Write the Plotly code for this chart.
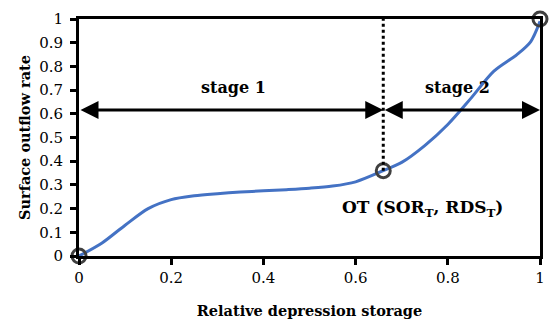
import plotly.graph_objects as go

# Relative depression storage vs. surface outflow rate
storage = [0, 0.05, 0.10, 0.15, 0.20, 0.25, 0.30, 0.35, 0.40, 0.45, 0.50, 0.55, 0.60,
           0.66, 0.70, 0.75, 0.80, 0.85, 0.90, 0.95, 0.98, 1.0]
outflow = [0, 0.055, 0.130, 0.200, 0.238, 0.254, 0.263, 0.270, 0.275, 0.280, 0.286, 0.295, 0.313,
           0.36, 0.395, 0.466, 0.555, 0.665, 0.780, 0.850, 0.905, 0.99]

# Key points: start, threshold OT, end
key_x = [0, 0.66, 1.0]
key_y = [0, 0.36, 1.0]

ot_x, ot_y = 0.66, 0.36
arrow_y = 0.616

x_ticks = [0, 0.2, 0.4, 0.6, 0.8, 1]
x_tick_text = ["0", "0.2", "0.4", "0.6", "0.8", "1"]
y_ticks = [0, 0.1, 0.2, 0.3, 0.4, 0.5, 0.6, 0.7, 0.8, 0.9, 1]
y_tick_text = ["0", "0.1", "0.2", "0.3", "0.4", "0.5", "0.6", "0.7", "0.8", "0.9", "1"]

FONT = "DejaVu Serif"

fig = go.Figure()
fig.add_trace(go.Scatter(
    x=storage, y=outflow, mode="lines",
    line=dict(color="#4472C4", width=3, shape="spline", smoothing=0.85),
    showlegend=False, cliponaxis=False,
))
fig.add_trace(go.Scatter(
    x=key_x, y=key_y, mode="markers",
    marker=dict(symbol="circle-open", size=14, color="#404040", line=dict(width=3, color="#404040")),
    showlegend=False, cliponaxis=False,
))

# Dotted separator between the two stages
fig.add_shape(type="line", x0=ot_x, x1=ot_x, y0=ot_y, y1=1, xref="x", yref="y",
              line=dict(color="black", width=3, dash="dot"))

# Double-headed stage arrows
for x0, x1 in [(0, ot_x), (ot_x, 1)]:
    fig.add_annotation(x=x1, y=arrow_y, ax=x0, ay=arrow_y, xref="x", yref="y",
                       axref="x", ayref="y", text="", showarrow=True,
                       arrowhead=2, arrowside="end+start", arrowsize=1.2,
                       arrowwidth=3, arrowcolor="black", standoff=0, startstandoff=0)

fig.add_annotation(x=0.335, y=0.71, xref="x", yref="y", text="<b>stage 1</b>",
                   showarrow=False, font=dict(family=FONT, size=16, color="black"))
fig.add_annotation(x=0.82, y=0.71, xref="x", yref="y", text="<b>stage 2</b>",
                   showarrow=False, font=dict(family=FONT, size=16, color="black"))
fig.add_annotation(x=0.745, y=0.2, xref="x", yref="y",
                   text="<b>OT (SOR<sub>T</sub>, RDS<sub>T</sub>)</b>",
                   showarrow=False, font=dict(family=FONT, size=17, color="black"))

axis_common = dict(
    showline=True, linewidth=3, linecolor="black", mirror=True,
    ticks="outside", ticklen=6, tickwidth=3, tickcolor="black",
    showgrid=False, zeroline=False,
    tickfont=dict(family=FONT, size=15, color="black"),
)

fig.update_xaxes(range=[0, 1], tickvals=x_ticks, ticktext=x_tick_text,
                 title=dict(text="<b>Relative depression storage</b>",
                            font=dict(family=FONT, size=14.5, color="black"), standoff=20),
                 **axis_common)
fig.update_yaxes(range=[0, 1], tickvals=y_ticks, ticktext=y_tick_text,
                 ticklabelstandoff=4,
                 title=dict(text="<b>Surface outflow rate</b>",
                            font=dict(family=FONT, size=14.5, color="black"), standoff=6),
                 **axis_common)

fig.update_layout(
    width=550, height=322,
    margin=dict(l=79, r=5, t=19, b=66),
    paper_bgcolor="white", plot_bgcolor="white",
    font=dict(family=FONT),
)

fig.write_html("out.html")
